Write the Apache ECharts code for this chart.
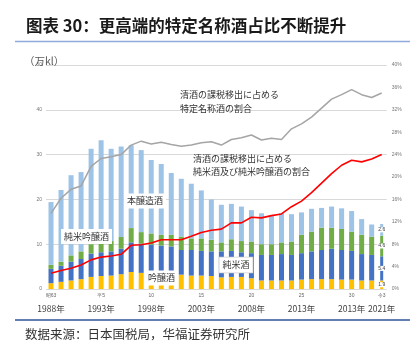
<!DOCTYPE html>
<html><head><meta charset="utf-8">
<script src="https://cdn.jsdelivr.net/npm/echarts@6/dist/echarts.min.js"></script>
<style>html,body{margin:0;padding:0;background:#fff}#c{width:419px;height:357px}</style>
</head><body><div id="c"></div>
<script>
const years = ['1988','1989','1990','1991','1992','1993','1994','1995','1996','1997','1998','1999','2000','2001','2002','2003','2004','2005','2006','2007','2008','2009','2010','2011','2012','2013','2014','2015','2016','2017','2018','2019','2020','2021'];
const tickIndex = [0,5,10,15,20,25,30,33];
const tickLabels = ['昭63','平5','10','15','20','25','30','令3'];
const yearLabels = ['1988年','1993年','1998年','2003年','2008年','2013年','2013年','2021年'];
// 万kl
const ginjo     = [1.3,1.6,1.9,2.2,2.7,2.9,3.0,3.3,3.8,3.6,3.4,3.3,3.2,3.2,3.0,3.0,2.9,2.6,2.7,2.7,2.4,1.9,1.9,1.9,1.9,2.1,2.2,2.2,2.2,2.1,2.1,1.9,1.9,1.9];
const junmai    = [3.2,3.6,4.2,4.5,5.2,5.3,5.4,5.7,6.6,6.5,6.5,6.4,6.3,5.5,5.7,5.5,5.5,5.8,5.8,5.5,5.6,5.7,5.7,5.9,5.7,5.9,6.2,6.5,6.8,6.6,6.4,5.9,5.7,5.4];
const junmaiGinjo = [0.9,0.9,1.4,1.7,2.1,1.9,2.3,2.6,3.2,2.6,2.5,2.4,2.6,3.0,2.6,2.8,2.6,2.0,2.6,2.5,2.6,2.4,2.4,2.6,3.0,4.1,4.4,5.0,4.7,4.7,4.3,4.3,4.1,4.6];
const honjozo   = [14.0,16.0,17.9,17.7,21.3,23.1,20.6,20.2,18.5,18.3,16.4,15.8,13.8,12.9,12.2,10.7,9.0,8.4,7.9,7.7,7.0,6.9,6.5,6.5,6.1,5.0,5.1,4.4,4.7,4.6,4.6,3.5,2.7,2.6];
// %
const tokuteiShare = [13.5,16.2,17.8,18.4,21.9,23.3,23.6,24.0,25.7,26.4,25.9,26.2,25.8,25.5,25.7,26.1,26.3,25.7,26.7,27.0,27.5,26.6,26.9,26.7,28.6,29.5,30.7,32.3,33.9,34.7,35.6,34.7,34.2,35.0];
const junmaiShare  = [2.8,3.3,3.7,4.3,5.2,5.7,5.9,6.2,7.8,7.9,8.2,8.8,8.8,8.8,9.4,10.1,10.5,10.7,11.8,11.8,12.8,12.7,13.1,13.4,14.7,15.7,17.2,18.9,20.6,22.1,23.0,22.7,23.2,24.0];

const segs = [
  {name:'吟醸酒', data:ginjo, color:'#FFC000'},
  {name:'純米酒', data:junmai, color:'#4472C4'},
  {name:'純米吟醸酒', data:junmaiGinjo, color:'#70AD47'},
  {name:'本醸造酒', data:honjozo, color:'#9DC3E6'}
];
const last = years.length - 1;
const series = [];
segs.forEach(s => {
  series.push({type:'bar', name:s.name, stack:'main', xAxisIndex:0, yAxisIndex:0, barWidth:5,
    itemStyle:{color:s.color}, data:s.data.map((v,i)=> i===last ? '-' : v), z:2});
});
segs.forEach(s => {
  series.push({type:'bar', name:s.name+'_r3', stack:'r3', xAxisIndex:1, yAxisIndex:0, barWidth:3,
    itemStyle:{color:s.color}, data:s.data.map((v,i)=> i===last ? v : '-'), z:2,
    label:{show:true, position:'inside', fontSize:5, color:'#404040', backgroundColor:'#fff',
      padding:[0,1], fontFamily:'Liberation Sans', formatter:p=>Number(p.value).toFixed(1)}});
});
series.push({type:'line', name:'特定名称酒の割合', xAxisIndex:0, yAxisIndex:1, data:tokuteiShare,
  symbol:'none', lineStyle:{color:'#A5A5A5', width:1.5}, itemStyle:{color:'#A5A5A5'}, z:5});
series.push({type:'line', name:'純米酒及び純米吟醸酒の割合', xAxisIndex:0, yAxisIndex:1, data:junmaiShare,
  symbol:'none', lineStyle:{color:'#FF0000', width:1.6}, itemStyle:{color:'#FF0000'}, z:6});

const jp = 'Noto Sans CJK JP';
function boxLabel(text, x, y, border){
  const st = {text:text, x:x, y:y, align:'center', verticalAlign:'middle',
    fontSize:9, fontFamily:jp, fill:'#333', backgroundColor:'#fff', padding:[3,3]};
  if (border) { st.borderColor = '#D0D0D0'; st.borderWidth = 0.8; }
  return {type:'text', z:100, style:st};
}

const chart = echarts.init(document.getElementById('c'));
chart.setOption({
  animation:false,
  grid:{left:46, right:32.3, top:65, bottom:68},
  xAxis:[
    {type:'category', data:years, boundaryGap:true,
     axisLine:{show:false}, axisTick:{show:false},
     axisLabel:{
       interval:(idx)=> tickIndex.indexOf(idx) >= 0,
       hideOverlap:false, showMinLabel:true, showMaxLabel:true,
       margin:3,
       formatter:(v,idx)=>{
         const k = tickIndex.indexOf(idx);
         if (k<0) return '';
         return '{a|'+tickLabels[k]+'}\n{b|'+yearLabels[k]+'}';
       },
       rich:{a:{fontSize:5, lineHeight:7, color:'#666', fontFamily:'Liberation Sans'},
             b:{fontSize:8.5, lineHeight:19, color:'#404040', fontFamily:'Noto Sans CJK SC'}}
     }},
    {type:'category', data:years, boundaryGap:true, show:false}
  ],
  yAxis:[
    {type:'value', min:0, max:50, interval:10, position:'left',
     axisLine:{show:false}, axisTick:{show:false},
     axisLabel:{fontSize:5, color:'#777', margin:4, fontFamily:'Liberation Sans'},
     splitLine:{lineStyle:{color:'#D9D9D9', width:1}}},
    {type:'value', min:0, max:40, interval:4, position:'right',
     axisLine:{show:false}, axisTick:{show:false},
     axisLabel:{fontSize:5, color:'#777', margin:5, formatter:'{value}%', fontFamily:'Liberation Sans'},
     splitLine:{show:false}}
  ],
  series:series,
  graphic:[
    {type:'text', z:100, style:{text:'图表 30：更高端的特定名称酒占比不断提升', x:26, y:26, verticalAlign:'middle',
      fontSize:16.5, fontWeight:'bold', fontFamily:'Noto Sans CJK SC', fill:'#1a1a1a'}},
    {type:'line', z:100, shape:{x1:15, y1:41.5, x2:410, y2:41.5}, style:{stroke:'#8FAADC', lineWidth:1.5}},
    {type:'text', z:100, style:{text:'（万kl）', x:24, y:61, verticalAlign:'middle',
      fontSize:10.5, fontFamily:'Noto Sans CJK SC', fill:'#595959'}},
    {type:'text', z:100, style:{text:'清酒の課税移出に占める\n特定名称酒の割合', x:180, y:102, verticalAlign:'middle',
      fontSize:9, lineHeight:14, fontFamily:jp, fill:'#333'}},
    {type:'text', z:100, style:{text:'清酒の課税移出に占める\n純米酒及び純米吟醸酒の割合', x:193, y:165, verticalAlign:'middle',
      fontSize:9, lineHeight:13, fontFamily:jp, fill:'#333'}},
    boxLabel('本醸造酒', 145, 201),
    boxLabel('純米吟醸酒', 86.5, 236.5),
    boxLabel('吟醸酒', 161.5, 278),
    boxLabel('純米酒', 236, 265, true),
    {type:'line', z:100, shape:{x1:15, y1:320, x2:410, y2:320}, style:{stroke:'#2F5597', lineWidth:1.5}},
    {type:'text', z:100, style:{text:'数据来源：日本国税局，华福证券研究所', x:25, y:334, verticalAlign:'middle',
      fontSize:12.5, fontFamily:'Noto Sans CJK SC', fill:'#333'}}
  ]
});
</script></body></html>
